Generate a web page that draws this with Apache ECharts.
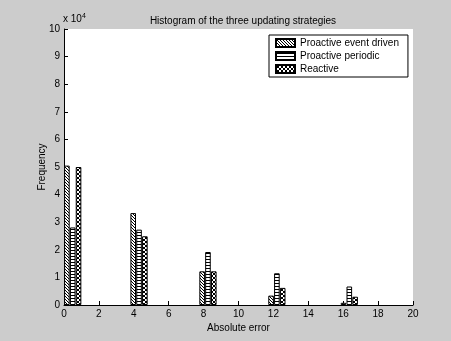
<!DOCTYPE html>
<html>
<head>
<meta charset="utf-8">
<script src="https://cdn.jsdelivr.net/npm/echarts@6/dist/echarts.min.js"></script>
<style>
  html, body { margin: 0; padding: 0; background: #cccccc; }
  #chart { width: 451px; height: 341px; }
</style>
</head>
<body>
<div id="chart"></div>
<script>
// bin positions (absolute error) and counts per strategy
const binCenters = [0.5, 4.3, 8.25, 12.2, 16.35]
const eventDriven = [50500, 33300, 12200, 3400, 800]
const periodic = [28100, 27300, 19200, 11500, 6700]
const reactive = [50000, 24900, 12200, 6200, 3000]
const seriesNames = ['Proactive event driven', 'Proactive periodic', 'Reactive']
const xTicks = [0, 2, 4, 6, 8, 10, 12, 14, 16, 18, 20]

// small black-on-white tiles used as bar fills, drawn pixel by pixel
function makeTile(w, h, pixels) {
  const c = document.createElement('canvas')
  c.width = w; c.height = h
  const ctx = c.getContext('2d')
  ctx.fillStyle = '#ffffff'; ctx.fillRect(0, 0, w, h)
  ctx.fillStyle = '#000000'
  pixels.forEach(p => ctx.fillRect(p[0], p[1], 1, 1))
  return { image: c, repeat: 'repeat' }
}
const hatchDiag = makeTile(3, 3, [[0, 0], [1, 1], [2, 2]])
const hatchHoriz = makeTile(3, 3, [[0, 1], [1, 1], [2, 1]])
const hatchCross = makeTile(4, 4, [[0, 0], [1, 1], [2, 2], [3, 3], [3, 0], [2, 1], [1, 2], [0, 3]])

const pair = vals => binCenters.map((x, i) => [x, vals[i]])
const fills = [hatchDiag, hatchHoriz, hatchCross]
const allVals = [eventDriven, periodic, reactive]

const font = 'Liberation Sans'
const chart = echarts.init(document.getElementById('chart'))
chart.setOption({
  backgroundColor: '#cccccc',
  animation: false,
  textStyle: { fontFamily: font },
  grid: { left: 64, right: 38, top: 29, bottom: 36, show: true, backgroundColor: '#ffffff', borderWidth: 0 },
  title: {
    text: 'Histogram of the three updating strategies',
    left: 238, top: 11, textAlign: 'center',
    textStyle: { fontFamily: font, fontSize: 10, fontWeight: 'normal', color: '#000' }
  },
  graphic: [{
    type: 'text', left: 63, top: 13,
    style: {
      text: 'x 10{sup|4}', fontFamily: font, fontSize: 10, fill: '#000',
      rich: { sup: { fontSize: 7, fontFamily: font, verticalAlign: 'top', padding: [0, 0, 6, 0] } }
    }
  }],
  legend: {
    orient: 'vertical', left: 269, top: 35,
    padding: [3, 9, 3, 6], itemGap: 3, itemWidth: 19, itemHeight: 8, itemTextGap: 6,
    backgroundColor: '#ffffff', borderColor: '#000000', borderWidth: 1, borderRadius: 0,
    icon: 'rect',
    textStyle: { fontFamily: font, fontSize: 10, color: '#000' },
    data: seriesNames
  },
  xAxis: {
    type: 'value', min: 0, max: 20, interval: 2,
    name: 'Absolute error', nameLocation: 'middle', nameGap: 18, nameMoveOverlap: false,
    nameTextStyle: { fontFamily: font, fontSize: 10, color: '#000' },
    axisLine: { lineStyle: { color: '#000', width: 1 } },
    axisTick: { inside: true, length: 4, lineStyle: { color: '#000' } },
    axisLabel: { fontFamily: font, fontSize: 10, color: '#000', margin: 4,
      customValues: xTicks },
    splitLine: { show: false }
  },
  yAxis: {
    type: 'value', min: 0, max: 100000, interval: 10000,
    name: 'Frequency', nameLocation: 'middle', nameGap: 17, nameMoveOverlap: false,
    nameTextStyle: { fontFamily: font, fontSize: 10, color: '#000' },
    axisLine: { show: true, lineStyle: { color: '#000', width: 1 } },
    axisTick: { show: true, inside: true, length: 4, lineStyle: { color: '#000' } },
    axisLabel: { fontFamily: font, fontSize: 10, color: '#000', margin: 4,
      formatter: v => String(v / 10000) },
    splitLine: { show: false }
  },
  series: seriesNames.map((name, k) => ({
    name, type: 'bar',
    data: pair(allVals[k]),
    barWidth: 5.6, barGap: '4%',
    itemStyle: { color: fills[k], borderColor: '#000', borderWidth: 1 }
  }))
})
</script>
</body>
</html>
